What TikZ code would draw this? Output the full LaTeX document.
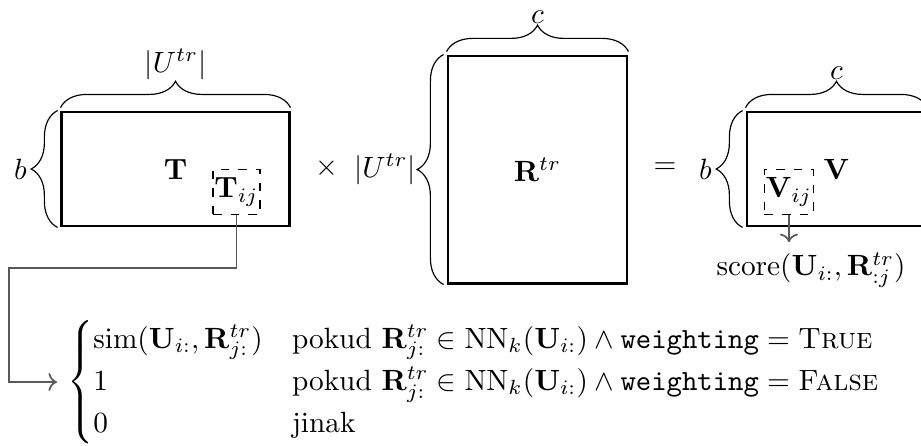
\documentclass[tikz,border=0pt]{standalone}
\usepackage{amsmath}
\usepackage{amsfonts}
\usepackage{tikz}
\usetikzlibrary{arrows.meta,decorations.pathreplacing}

\begin{document}
\begin{tikzpicture}[x=0.3413pt, y=-0.3413pt,
    matbox/.style={draw, line width=1pt, inner sep=0pt},
    cellbox/.style={draw, dashed, inner sep=0.5pt, minimum width=15.5pt, minimum height=15.5pt},
    brc/.style={decorate, decoration={brace, amplitude=9pt, raise=1pt}},
    link/.style={->, black!65, semithick}]
    \useasboundingbox (0,0) rectangle (921,445);

    % T matrix
    \node[matbox, minimum width=77.5pt, minimum height=38.9pt] (T) at (175.5,169) {$\mathbf{T}$};
    \node[cellbox] (Tij) at (236.5,192) {$\mathbf{T}_{ij}$};
    \draw[brc] (T.north west) -- (T.north east) node[midway, above=7pt] {$|U^{tr}|$};
    \draw[brc] (T.south west) -- (T.north west) node[midway, left=8pt] {$b$};

    \node (times) at (327,168) {$\times$};

    % R matrix
    \node[matbox, minimum width=61.1pt, minimum height=77.5pt] (R) at (537.5,169.5) {$\mathbf{R}^{tr}$};
    \draw[brc] (R.north west) -- (R.north east) node[midway, above=7pt] {$c$};
    \draw[brc] (R.south west) -- (R.north west) node[midway, left=7pt] {$|U^{tr}|$};

    \node (equals) at (665,168) {$=$};

    % V matrix
    \node[matbox, minimum width=61.1pt, minimum height=38.9pt] (V) at (836.5,169) {$\mathbf{V}$};
    \node[cellbox] (Vij) at (789,192) {$\mathbf{V}_{ij}$};
    \draw[brc] (V.north west) -- (V.north east) node[midway, above=7pt] {$c$};
    \draw[brc] (V.south west) -- (V.north west) node[midway, left=8pt] {$b$};

    \node (score) at (811,270) {$\mathrm{score}(\mathbf{U}_{i:}, \mathbf{R}^{tr}_{:j})$};
    \draw[link] (Vij.south) -- (Vij.south |- score.north);

    % cell value
    \node[anchor=west] (cases) at (57,382) {$\begin{cases}
        \mathrm{sim}(\mathbf{U}_{i:}, \mathbf{R}^{tr}_{j:}) & \text{pokud } \mathbf{R}^{tr}_{j:} \in \mathrm{NN}_k(\mathbf{U}_{i:}) \land \texttt{weighting} = \textsc{True} \\
        1 & \text{pokud } \mathbf{R}^{tr}_{j:} \in \mathrm{NN}_k(\mathbf{U}_{i:}) \land \texttt{weighting} = \textsc{False} \\
        0 & \text{jinak}
    \end{cases}$};

    \coordinate (bend) at (9,268);
    \draw[link] (Tij.south) |- (bend) |- (cases.west);
\end{tikzpicture}
\end{document}
